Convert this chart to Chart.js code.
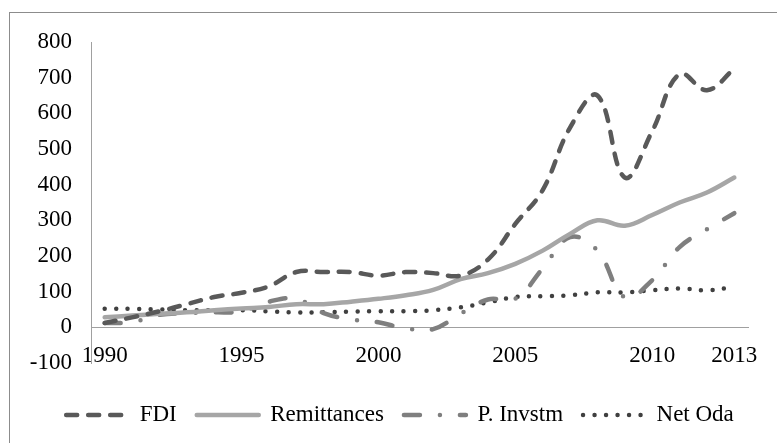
<!DOCTYPE html>
<html>
<head>
<meta charset="utf-8">
<script src="https://cdn.jsdelivr.net/npm/chart.js@4/dist/chart.umd.min.js"></script>
<style>
  html, body { margin: 0; padding: 0; background: #fff; }
  #wrap { position: relative; width: 777px; height: 443px; overflow: hidden; }
  #frame { position: absolute; left: 9px; top: 12px; width: 900px; height: 600px;
           border-left: 1px solid #8c8c8c; border-top: 1px solid #8c8c8c; }
  #chart { position: absolute; left: 0; top: 0; }
</style>
</head>
<body>
<div id="wrap">
  <div id="frame"></div>
  <canvas id="chart" width="777" height="443"></canvas>
</div>
<script>
const years = ['1990','1991','1992','1993','1994','1995','1996','1997','1998','1999','2000','2001',
               '2002','2003','2004','2005','2006','2007','2008','2009','2010','2011','2012','2013'];
const shownYears = ['1990', '1995', '2000', '2005', '2010', '2013'];

const fdi = [12, 28, 45, 65, 85, 97, 115, 155, 155, 155, 145, 155,
             152, 145, 190, 290, 385, 560, 650, 420, 550, 710, 665, 725];
const remittances = [28, 33, 38, 42, 48, 53, 57, 65, 65, 72, 80, 90,
                     105, 135, 152, 178, 215, 262, 300, 285, 315, 350, 378, 420];
const pInvstm = [12, 15, 35, 40, 42, 45, 72, 80, 40, 22, 14, -3,
                 -5, 38, 78, 80, 165, 253, 215, 84, 132, 225, 275, 320];
const netOda = [52, 52, 50, 48, 48, 48, 45, 42, 42, 44, 45, 45,
                48, 56, 70, 85, 87, 90, 98, 98, 104, 109, 104, 113];

const yTicks = { min: -100, max: 800, step: 100 };

const serif = 'Liberation Serif, Times New Roman, serif';
Chart.defaults.font.family = serif;
Chart.defaults.font.size = 23;
Chart.defaults.color = '#000';

function series(label, data, color, dash, width) {
  return {
    label: label,
    data: data,
    borderColor: color,
    backgroundColor: 'transparent',
    borderWidth: width,
    borderDash: dash,
    borderCapStyle: 'round',
    borderJoinStyle: 'round',
    pointRadius: 0,
    pointHoverRadius: 0,
    tension: 0.4,
    fill: false
  };
}

const ctx = document.getElementById('chart').getContext('2d');
new Chart(ctx, {
  type: 'line',
  data: {
    labels: years,
    datasets: [
      series('FDI', fdi, '#595959', [11, 11], 4.5),
      series('Remittances', remittances, '#a6a6a6', [], 4.5),
      series('P. Invstm', pInvstm, '#7f7f7f', [16, 20, 0, 20], 4.5),
      series('Net Oda', netOda, '#404040', [0, 11.5], 4.5)
    ]
  },
  options: {
    responsive: false,
    animation: false,
    layout: { padding: { left: 26, right: 3, top: 42, bottom: 6.5 } },
    scales: {
      x: {
        type: 'category',
        position: { y: 0 },
        offset: true,
        grid: { display: false, drawTicks: false },
        border: { display: true, color: '#a0a0a0', width: 1 },
        ticks: {
          autoSkip: false,
          maxRotation: 0,
          padding: 15,
          callback: function(value) {
            const lbl = this.getLabelForValue(value);
            return shownYears.includes(lbl) ? lbl : '';
          }
        }
      },
      // spacer so the legend sits where it does in the original
      xB: {
        type: 'category',
        position: 'bottom',
        grid: { display: false },
        border: { display: false },
        ticks: { display: false },
        afterFit: s => { s.height = 20.5; }
      },
      y: {
        position: 'left',
        min: yTicks.min,
        max: yTicks.max,
        grid: { display: false, drawTicks: false },
        border: { display: true, color: '#a0a0a0', width: 1 },
        ticks: { stepSize: yTicks.step, padding: 19 },
        afterFit: s => { s.width = 65; }
      },
      yR: {
        type: 'linear',
        position: 'right',
        grid: { display: false },
        border: { display: false },
        ticks: { display: false },
        afterFit: s => { s.width = 26; }
      }
    },
    plugins: {
      tooltip: { enabled: false },
      legend: {
        position: 'bottom',
        labels: {
          usePointStyle: true,
          pointStyle: 'line',
          pointStyleWidth: 62,
          padding: 20,
          generateLabels: function(chart) {
            const items = Chart.defaults.plugins.legend.labels.generateLabels(chart);
            items.forEach(it => {
              const ds = chart.data.datasets[it.datasetIndex];
              it.lineDash = ds.borderDash;
              it.lineCap = 'round';
              it.lineWidth = ds.borderWidth;
              it.strokeStyle = ds.borderColor;
            });
            return items;
          }
        }
      }
    }
  }
});
</script>
</body>
</html>
